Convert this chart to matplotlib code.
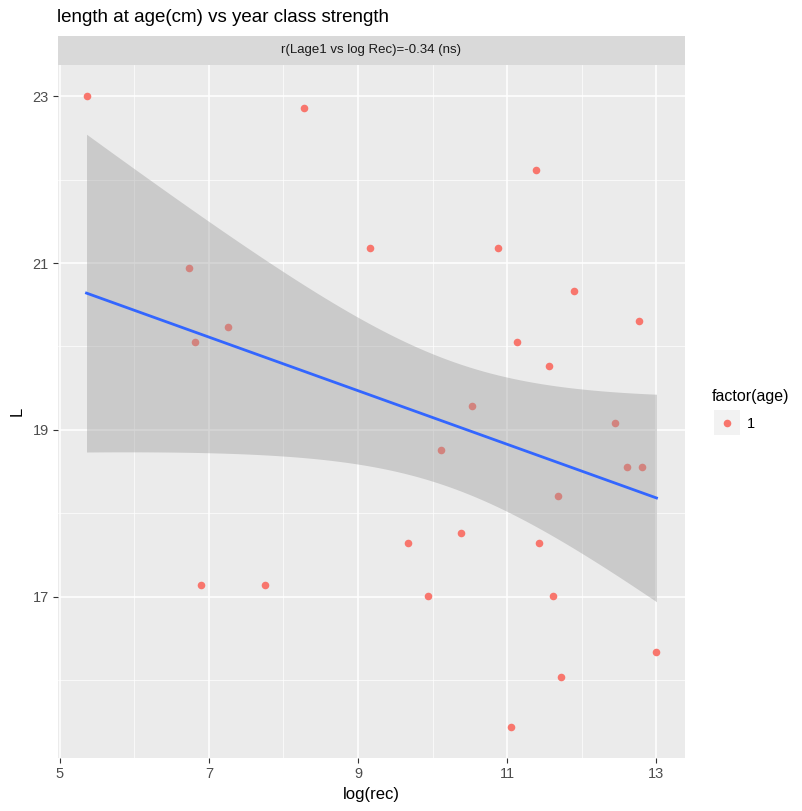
import numpy as np
import matplotlib
matplotlib.use("Agg")
import matplotlib.pyplot as plt
from matplotlib.ticker import MultipleLocator

plt.rcParams['font.family'] = ['Liberation Sans', 'DejaVu Sans']

# data
log_rec = [5.36, 8.28, 11.38, 9.16, 10.87, 6.74, 11.90, 12.77, 7.26, 6.82,
           11.13, 11.56, 10.53, 12.45, 10.11, 12.61, 12.81, 11.68, 9.67, 10.38,
           11.42, 6.89, 7.75, 9.94, 11.61, 13.00, 11.72, 11.05]
length = [23.00, 22.86, 22.12, 21.18, 21.18, 20.94, 20.67, 20.31, 20.23, 20.05,
          20.05, 19.76, 19.28, 19.08, 18.76, 18.55, 18.55, 18.21, 17.64, 17.76,
          17.64, 17.14, 17.14, 17.01, 17.01, 16.33, 16.04, 15.44]
x_ticks = [5, 7, 9, 11, 13]
y_ticks = [17, 19, 21, 23]
strip_label = "r(Lage1 vs log Rec)=-0.34 (ns)"

x = np.array(log_rec)
y = np.array(length)

# linear fit with 95% confidence band (like geom_smooth(method="lm"))
n = len(x)
b1, b0 = np.polyfit(x, y, 1)
resid = y - (b0 + b1 * x)
s = np.sqrt(np.sum(resid ** 2) / (n - 2))
xg = np.linspace(x.min(), x.max(), 80)
yg = b0 + b1 * xg
se = s * np.sqrt(1 / n + (xg - x.mean()) ** 2 / np.sum((x - x.mean()) ** 2))
t = 2.0555
lo, hi = yg - t * se, yg + t * se

fig = plt.figure(figsize=(8.03, 8.11), dpi=100)
W, H = 803, 811
L, R, T, B = 58, 685, 65, 758
ax = fig.add_axes([L / W, 1 - B / H, (R - L) / W, (B - T) / H])
ax.set_facecolor("#EBEBEB")
for sp in ax.spines.values():
    sp.set_visible(False)

ax.set_xticks(x_ticks)
ax.set_yticks(y_ticks)
ax.xaxis.set_minor_locator(MultipleLocator(1))
ax.yaxis.set_minor_locator(MultipleLocator(1))
ax.grid(which="major", color="white", linewidth=1.1)
ax.grid(which="minor", color="white", linewidth=0.5)
ax.set_axisbelow(True)
ax.tick_params(which="minor", length=0)
ax.tick_params(which="major", length=3.5, width=0.8, color="#333333",
               labelcolor="#4D4D4D", labelsize=10.5, pad=3)

ax.scatter(x, y, s=30, color="#F8766D", linewidths=0, zorder=2)
ax.fill_between(xg, lo, hi, color="#999999", alpha=0.4, linewidth=0, zorder=3)
ax.plot(xg, yg, color="#3366FF", linewidth=2, zorder=4)

pad_x = (x.max() - x.min()) * 0.05
pad_y = (y.max() - y.min()) * 0.05
ax.set_xlim(x.min() - pad_x, x.max() + pad_x)
ax.set_ylim(y.min() - pad_y, y.max() + pad_y)

ax.set_xlabel("log(rec)", fontsize=12, labelpad=4)
ax.set_ylabel("L", fontsize=12, labelpad=6)

# facet strip
sax = fig.add_axes([L / W, 1 - T / H, (R - L) / W, 29 / H])
sax.set_facecolor("#D9D9D9")
sax.set_xticks([])
sax.set_yticks([])
for sp in sax.spines.values():
    sp.set_visible(False)
sax.text(0.5, 0.5, strip_label, ha="center", va="center", fontsize=9.5,
         color="#1A1A1A", transform=sax.transAxes)

fig.text(57 / W, 1 - 17 / H, "length at age(cm) vs year class strength",
         fontsize=13.5, ha="left", va="center", color="black")

# legend
fig.text(712 / W, 1 - 397 / H, "factor(age)", fontsize=11.5, ha="left", va="center")
kax = fig.add_axes([714 / W, 1 - 435 / H, 26 / W, 25 / H])
kax.set_facecolor("#F2F2F2")
kax.set_xticks([])
kax.set_yticks([])
for sp in kax.spines.values():
    sp.set_visible(False)
kax.set_xlim(0, 1)
kax.set_ylim(0, 1)
kax.scatter([0.5], [0.5], s=30, color="#F8766D", linewidths=0)
fig.text(747 / W, 1 - 424 / H, "1", fontsize=10.5, ha="left", va="center")

fig.savefig("out.png", dpi=100)
